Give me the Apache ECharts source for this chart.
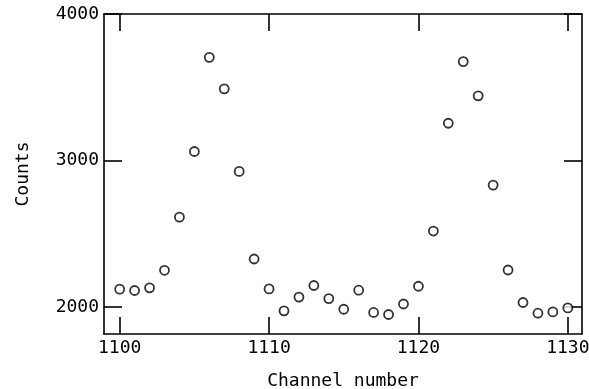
<!DOCTYPE html>
<html>
<head>
<meta charset="utf-8">
<script src="https://cdn.jsdelivr.net/npm/echarts@6/dist/echarts.min.js"></script>
<style>
html,body{margin:0;padding:0;background:#fff;}
#chart{width:589px;height:389px;}
</style>
</head>
<body>
<div id="chart"></div>
<script>
var channels = [1100,1101,1102,1103,1104,1105,1106,1107,1108,1109,1110,1111,1112,1113,1114,1115,1116,1117,1118,1119,1120,1121,1122,1123,1124,1125,1126,1127,1128,1129,1130];
var counts = [2121,2112,2130,2250,2613,3061,3704,3489,2925,2327,2123,1973,2067,2146,2057,1984,2114,1962,1948,2020,2141,2518,3254,3675,3441,2832,2252,2030,1957,1966,1993];
var xTickValues = [1100,1110,1120,1130];
var yTickValues = [2000,3000,4000];
var xName = 'Channel number';
var yName = 'Counts';

var FONT = 'DejaVu Sans Mono';
var lineStyle = {color:'#000', width:1.6};
function plain(v){ return String(v); }

function xAxis(pos, show) {
  return {
    type:'value', position:pos, min:1098.95, max:1130.95,
    name: show ? xName : '', nameLocation:'middle', nameGap:38,
    nameTextStyle:{fontFamily:FONT, fontSize:18, color:'#000'},
    axisLine:{show:true, onZero:false, lineStyle:lineStyle},
    axisTick:{show:true, inside:true, length:17, lineStyle:lineStyle, customValues:xTickValues},
    axisLabel:{show:show, customValues:xTickValues, margin:5, formatter:plain, fontFamily:FONT, fontSize:18, color:'#000'},
    splitLine:{show:false}
  };
}
function yAxis(pos, show) {
  return {
    type:'value', position:pos, min:1815, max:4000,
    name: show ? yName : '', nameLocation:'middle', nameGap:72, nameRotate:90,
    nameTextStyle:{fontFamily:FONT, fontSize:18, color:'#000'},
    axisLine:{show:true, onZero:false, lineStyle:lineStyle},
    axisTick:{show:true, inside:true, length:18, lineStyle:lineStyle, customValues:yTickValues},
    axisLabel:{show:show, customValues:yTickValues, margin:5, formatter:plain, fontFamily:FONT, fontSize:18, color:'#000'},
    splitLine:{show:false}
  };
}

var chart = echarts.init(document.getElementById('chart'), null, {renderer:'canvas'});
chart.setOption({
  animation:false,
  backgroundColor:'#fff',
  grid:{left:104, right:7, top:14, bottom:55, containLabel:false, outerBoundsMode:'none'},
  xAxis:[xAxis('bottom', true), xAxis('top', false)],
  yAxis:[yAxis('left', true), yAxis('right', false)],
  series:[{
    type:'scatter',
    xAxisIndex:0, yAxisIndex:0,
    data: channels.map(function(c,i){return [c, counts[i]];}),
    symbol:'circle', symbolSize:9,
    itemStyle:{color:'#fff', borderColor:'#000', borderWidth:1.8}
  }]
});
</script>
</body>
</html>
